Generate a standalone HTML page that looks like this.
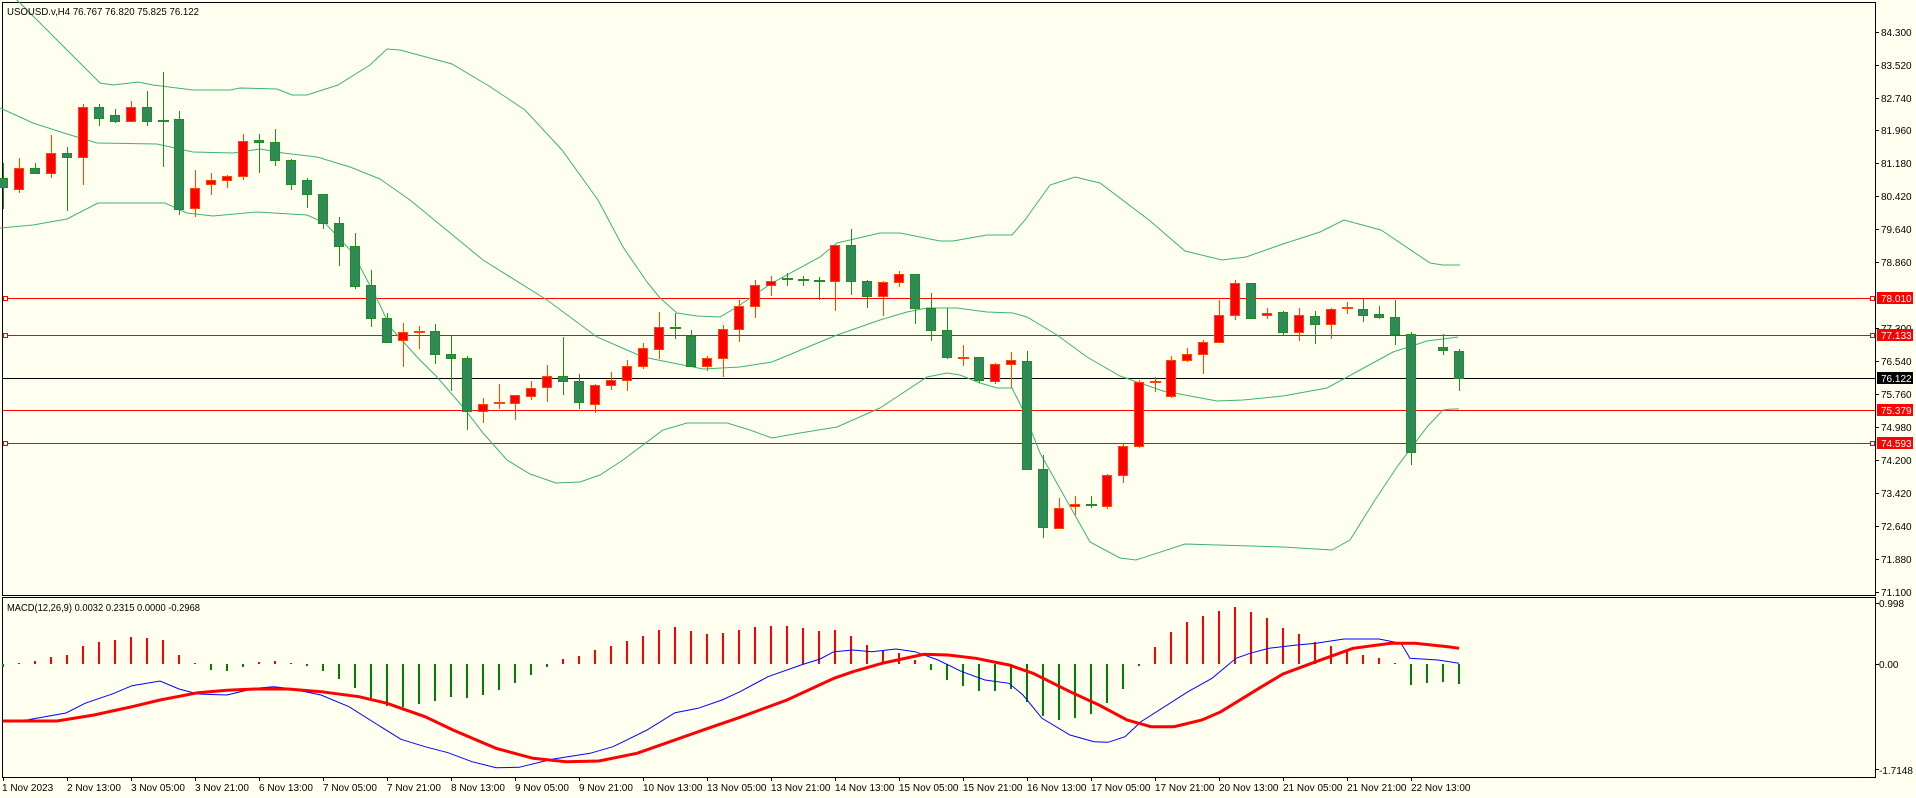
<!DOCTYPE html>
<html><head><meta charset="utf-8"><style>
html,body{margin:0;padding:0;background:#FFFFF0;}
svg{display:block;}
text{font-family:"Liberation Sans",Arial,sans-serif;}
</style></head><body>
<svg width="1916" height="798" viewBox="0 0 1916 798" xmlns="http://www.w3.org/2000/svg">
<rect x="0" y="0" width="1916" height="798" fill="#FFFFF0"/>
<g fill="none" stroke="#000" stroke-width="1" shape-rendering="crispEdges">
<path d="M2.5 2.5H1875.5V595.5H2.5Z"/>
<path d="M2.5 597.5H1875.5V777.5H2.5Z"/>
</g>
<g stroke="#000" shape-rendering="crispEdges">
<path d="M1875 32.5h4M1875 65.5h4M1875 98.5h4M1875 130.5h4M1875 163.5h4M1875 196.5h4M1875 229.5h4M1875 262.5h4M1875 328.5h4M1875 361.5h4M1875 394.5h4M1875 427.5h4M1875 460.5h4M1875 493.5h4M1875 526.5h4M1875 559.5h4M1875 592.5h4M1875 603.5h4M1875 664.5h4M1875 769.5h4"/>
<path d="M3.5 777v4M67.5 777v4M131.5 777v4M195.5 777v4M259.5 777v4M323.5 777v4M387.5 777v4M451.5 777v4M515.5 777v4M579.5 777v4M643.5 777v4M707.5 777v4M771.5 777v4M835.5 777v4M899.5 777v4M963.5 777v4M1027.5 777v4M1091.5 777v4M1155.5 777v4M1219.5 777v4M1283.5 777v4M1347.5 777v4M1411.5 777v4"/>
</g>
<g font-size="10" fill="#000">
<text x="1881" y="36">84.300</text>
<text x="1881" y="69">83.520</text>
<text x="1881" y="102">82.740</text>
<text x="1881" y="134">81.960</text>
<text x="1881" y="167">81.180</text>
<text x="1881" y="200">80.420</text>
<text x="1881" y="233">79.640</text>
<text x="1881" y="266">78.860</text>
<text x="1881" y="332">77.300</text>
<text x="1881" y="365">76.540</text>
<text x="1881" y="398">75.760</text>
<text x="1881" y="431">74.980</text>
<text x="1881" y="464">74.200</text>
<text x="1881" y="497">73.420</text>
<text x="1881" y="530">72.640</text>
<text x="1881" y="563">71.880</text>
<text x="1881" y="596">71.100</text>
<text x="1879" y="607">0.998</text>
<text x="1879" y="668">0.00</text>
<text x="1879" y="774">-1.7148</text>
</g>
<g stroke="#FF0000" stroke-width="1" shape-rendering="crispEdges">
<path d="M3 298.5H1875M3 335.5H1875M3 410.5H1875M3 443.5H1875"/>
</g>
<path d="M3 378.5H1875" stroke="#000" shape-rendering="crispEdges"/>
<g fill="#fff" stroke="#FF0000" shape-rendering="crispEdges">
<rect x="3.5" y="296.5" width="4" height="4"/><rect x="3.5" y="333.5" width="4" height="4"/><rect x="3.5" y="441.5" width="4" height="4"/>
<rect x="1870.5" y="296.5" width="4" height="4"/><rect x="1870.5" y="333.5" width="4" height="4"/><rect x="1870.5" y="441.5" width="4" height="4"/>
</g>
<g font-size="10">
<rect x="1877" y="292" width="36" height="12" fill="#FF0000"/><text x="1881" y="302" fill="#fff">78.010</text>
<rect x="1877" y="329" width="36" height="12" fill="#FF0000"/><text x="1881" y="339" fill="#fff">77.133</text>
<rect x="1877" y="372" width="36" height="12" fill="#000"/><text x="1881" y="382" fill="#fff">76.122</text>
<rect x="1877" y="404" width="36" height="12" fill="#FF0000"/><text x="1881" y="414" fill="#fff">75.379</text>
<rect x="1877" y="437" width="36" height="12" fill="#FF0000"/><text x="1881" y="447" fill="#fff">74.593</text>
</g>
<g fill="none" stroke="#3CB371" stroke-width="1">
<path d="M0,-10 L17,0 L100,83 L113,85 L138,82 L153,85 L193,90 L230,90 L240,88 L277,89 L292,95 L307,95 L338,85 L370,65 L387,49 L400,50 L452,64 L489,86 L525,110 L562,150 L598,200 L623,247 L647,282 L660,298 L677,313 L697,316 L720,317 L737,307 L772,283 L820,257 L837,243 L880,233 L900,233 L940,241 L953,241 L987,235 L1012,235 L1025,220 L1050,185 L1075,177 L1100,183 L1149,220 L1185,251 L1222,260 L1246,257 L1283,244 L1320,232 L1344,220 L1381,230 L1430,263 L1443,265 L1460,265"/>
<path d="M0,108 L33,123 L67,134 L97,143 L157,144 L193,152 L233,153 L260,149 L283,153 L317,157 L350,167 L380,179 L410,200 L483,260 L547,300 L597,337 L643,357 L703,369 L740,367 L772,362 L820,342 L837,335 L880,320 L907,312 L927,308 L957,308 L987,312 L1013,313 L1027,317 L1057,335 L1087,357 L1120,376 L1163,391 L1217,401 L1243,400 L1283,396 L1327,388 L1360,370 L1393,352 L1427,341 L1458,337"/>
<path d="M0,228 L33,225 L67,219 L98,203 L165,203 L187,213 L213,216 L257,212 L307,215 L325,223 L353,253 L380,305 L390,327 L417,357 L437,377 L463,407 L483,433 L507,460 L530,474 L556,483 L580,482 L600,475 L623,460 L663,430 L687,423 L727,423 L750,430 L772,438 L800,433 L837,427 L880,408 L927,377 L947,373 L960,375 L980,383 L997,388 L1012,388 L1023,410 L1040,453 L1090,542 L1120,558 L1136,560 L1185,544 L1283,547 L1332,550 L1350,540 L1375,500 L1397,467 L1427,427 L1443,410 L1452,409 L1459,409"/>
</g>
<g shape-rendering="crispEdges">
<path stroke="#228B22" stroke-width="1" d="M3.5 163V209M35.5 163V174M67.5 147V211M99.5 104V126M115.5 109V123M147.5 91V126M163.5 72V167M179.5 111V215M259.5 134V173M275.5 129V166M291.5 159V190M307.5 178V208M323.5 194V229M339.5 217V266M355.5 233V289M371.5 270V327M387.5 313V343M435.5 324V364M451.5 336V391M467.5 356V430M563.5 337V395M579.5 374V409M675.5 313V339M691.5 330V366M787.5 273V286M803.5 276V286M819.5 277V300M851.5 229V295M867.5 280V308M915.5 274V324M931.5 293V341M947.5 308V359M979.5 357V383M1027.5 351V470M1043.5 455V538M1091.5 496V508M1251.5 283V319M1283.5 311V335M1315.5 311V344M1363.5 299V322M1379.5 306V319M1395.5 300V345M1411.5 332V465M1443.5 334V355M1459.5 349V391"/>
<path stroke="#228B22" stroke-width="2" d="M158 121H169M670 328H681M782 279H793M798 280H809M814 281H825M1086 505H1097"/>
<g fill="#2E8B57" stroke="#228B22">
<rect x="-1.5" y="178.5" width="9" height="9"/><rect x="30.5" y="168.5" width="9" height="5"/><rect x="62.5" y="153.5" width="9" height="4"/><rect x="94.5" y="107.5" width="9" height="11"/><rect x="110.5" y="115.5" width="9" height="6"/><rect x="142.5" y="107.5" width="9" height="14"/><rect x="174.5" y="119.5" width="9" height="90"/><rect x="254.5" y="140.5" width="9" height="2"/><rect x="270.5" y="142.5" width="9" height="18"/><rect x="286.5" y="160.5" width="9" height="24"/><rect x="302.5" y="180.5" width="9" height="14"/><rect x="318.5" y="194.5" width="9" height="29"/><rect x="334.5" y="223.5" width="9" height="23"/><rect x="350.5" y="246.5" width="9" height="40"/><rect x="366.5" y="285.5" width="9" height="33"/><rect x="382.5" y="318.5" width="9" height="24"/><rect x="430.5" y="331.5" width="9" height="23"/><rect x="446.5" y="354.5" width="9" height="4"/><rect x="462.5" y="358.5" width="9" height="53"/><rect x="558.5" y="376.5" width="9" height="5"/><rect x="574.5" y="381.5" width="9" height="21"/><rect x="686.5" y="336.5" width="9" height="30"/><rect x="846.5" y="245.5" width="9" height="36"/><rect x="862.5" y="281.5" width="9" height="15"/><rect x="910.5" y="274.5" width="9" height="34"/><rect x="926.5" y="308.5" width="9" height="22"/><rect x="942.5" y="330.5" width="9" height="27"/><rect x="974.5" y="357.5" width="9" height="23"/><rect x="1022.5" y="361.5" width="9" height="108"/><rect x="1038.5" y="469.5" width="9" height="58"/><rect x="1246.5" y="283.5" width="9" height="35"/><rect x="1278.5" y="312.5" width="9" height="20"/><rect x="1310.5" y="316.5" width="9" height="8"/><rect x="1358.5" y="309.5" width="9" height="6"/><rect x="1374.5" y="314.5" width="9" height="3"/><rect x="1390.5" y="317.5" width="9" height="17"/><rect x="1406.5" y="334.5" width="9" height="118"/><rect x="1438.5" y="347.5" width="9" height="3"/><rect x="1454.5" y="351.5" width="9" height="27"/>
</g>
<path stroke="#FF4500" stroke-width="1" d="M19.5 158V193M51.5 135V178M83.5 104V185M131.5 101V121M195.5 170V217M211.5 173V195M227.5 175V188M243.5 134V180M403.5 323V367M419.5 326V349M483.5 398V423M499.5 384V409M515.5 395V420M531.5 381V400M547.5 365V402M595.5 384V413M611.5 372V390M627.5 360V391M643.5 343V369M659.5 312V359M707.5 356V371M723.5 325V377M739.5 300V342M755.5 280V318M771.5 276V296M835.5 245V311M883.5 281V316M899.5 271V287M963.5 345V366M995.5 363V384M1011.5 352V388M1059.5 498V528M1075.5 496V515M1107.5 474V509M1123.5 443V483M1139.5 380V448M1155.5 377V392M1171.5 356V398M1187.5 348V362M1203.5 340V374M1219.5 300V343M1235.5 280V320M1267.5 308V319M1299.5 308V341M1331.5 308V339M1347.5 302V314"/>
<path stroke="#FF4500" stroke-width="2" d="M414 332H425M494 403H505M958 358H969M1150 382H1161M1342 308H1353"/>
<g fill="#FF0000" stroke="#FF4500">
<rect x="14.5" y="168.5" width="9" height="21"/><rect x="46.5" y="153.5" width="9" height="20"/><rect x="78.5" y="107.5" width="9" height="50"/><rect x="126.5" y="107.5" width="9" height="14"/><rect x="190.5" y="188.5" width="9" height="20"/><rect x="206.5" y="180.5" width="9" height="4"/><rect x="222.5" y="176.5" width="9" height="4"/><rect x="238.5" y="141.5" width="9" height="35"/><rect x="398.5" y="332.5" width="9" height="8"/><rect x="478.5" y="404.5" width="9" height="7"/><rect x="510.5" y="395.5" width="9" height="8"/><rect x="526.5" y="388.5" width="9" height="8"/><rect x="542.5" y="376.5" width="9" height="11"/><rect x="590.5" y="385.5" width="9" height="19"/><rect x="606.5" y="380.5" width="9" height="5"/><rect x="622.5" y="366.5" width="9" height="14"/><rect x="638.5" y="348.5" width="9" height="18"/><rect x="654.5" y="327.5" width="9" height="22"/><rect x="702.5" y="358.5" width="9" height="8"/><rect x="718.5" y="329.5" width="9" height="29"/><rect x="734.5" y="306.5" width="9" height="23"/><rect x="750.5" y="285.5" width="9" height="21"/><rect x="766.5" y="281.5" width="9" height="4"/><rect x="830.5" y="245.5" width="9" height="36"/><rect x="878.5" y="282.5" width="9" height="14"/><rect x="894.5" y="274.5" width="9" height="8"/><rect x="990.5" y="364.5" width="9" height="17"/><rect x="1006.5" y="360.5" width="9" height="4"/><rect x="1054.5" y="508.5" width="9" height="20"/><rect x="1070.5" y="504.5" width="9" height="2"/><rect x="1102.5" y="475.5" width="9" height="31"/><rect x="1118.5" y="446.5" width="9" height="29"/><rect x="1134.5" y="382.5" width="9" height="64"/><rect x="1166.5" y="360.5" width="9" height="36"/><rect x="1182.5" y="354.5" width="9" height="6"/><rect x="1198.5" y="342.5" width="9" height="12"/><rect x="1214.5" y="315.5" width="9" height="27"/><rect x="1230.5" y="283.5" width="9" height="32"/><rect x="1262.5" y="313.5" width="9" height="2"/><rect x="1294.5" y="315.5" width="9" height="17"/><rect x="1326.5" y="309.5" width="9" height="15"/>
</g>
</g>
<text x="7" y="15" font-size="10.5" textLength="192" lengthAdjust="spacingAndGlyphs" fill="#000">USOUSD.v,H4  76.767 76.820 75.825 76.122</text>
<g stroke-width="2" shape-rendering="crispEdges">
<path stroke="#FF0000" d="M19 664V663M35 664V661M51 664V657M67 664V655M83 664V646M99 664V642M115 664V640M131 664V637M147 664V638M163 664V640M179 664V655M195 664V663M259 664V662M275 664V661M291 664V663M563 664V659M579 664V656M595 664V650M611 664V646M627 664V641M643 664V636M659 664V630M675 664V627M691 664V631M707 664V634M723 664V633M739 664V630M755 664V627M771 664V626M787 664V626M803 664V628M819 664V631M835 664V630M851 664V636M867 664V645M883 664V650M899 664V653M915 664V660M1155 664V647M1171 664V632M1187 664V622M1203 664V616M1219 664V611M1235 664V607M1251 664V612M1267 664V618M1283 664V628M1299 664V634M1315 664V642M1331 664V646M1347 664V650M1363 664V655M1379 664V658M1395 664V663"/>
<path stroke="#008000" d="M3 664V667M211 664V670M227 664V671M243 664V667M307 664V666M323 664V671M339 664V679M355 664V688M371 664V698M387 664V706M403 664V707M419 664V704M435 664V701M451 664V697M467 664V698M483 664V695M499 664V690M515 664V683M531 664V675M547 664V667M931 664V670M947 664V680M963 664V686M979 664V691M995 664V691M1011 664V689M1027 664V702M1043 664V716M1059 664V720M1075 664V718M1091 664V714M1107 664V703M1123 664V689M1139 664V666M1411 664V685M1427 664V683M1443 664V682M1459 664V684"/>
</g>
<path fill="none" stroke="#0000FF" stroke-width="1" d="M3,720.7 L28,719.7 L66,713 L85,703.3 L113,693.7 L132,685.7 L160,681 L179,689 L198,694 L227,695 L255,688.3 L274,686.7 L288,688.3 L321,695 L349,706.7 L378,725 L401,739.3 L425,746.7 L448,752.7 L472,761.7 L496,767.7 L519,767.3 L552,759.3 L590,753.3 L613,746.7 L647,730 L675,712.7 L698,708.3 L722,700 L740,691.7 L768,676.7 L801,665 L820,659 L834,651.7 L853,650 L872,651.7 L896,649 L915,651.7 L938,660 L962,671.7 L985,680 L1009,683.3 L1023,695 L1042,718.3 L1070,735 L1094,741.7 L1108,742.3 L1125,736.7 L1141,721.7 L1188,691.7 L1212,678.3 L1236,658.3 L1250,653.3 L1269,648.3 L1297,645 L1316,643.3 L1344,639 L1379,639 L1401,643.3 L1410,658.3 L1438,660 L1459,663.3"/>
<path fill="none" stroke="#FF0000" stroke-width="3" d="M3,721 L57,721 L94,715 L132,706.7 L160,700 L198,692.7 L227,690.3 L255,689 L288,689 L321,691.7 L359,696.7 L387,703.3 L425,716.7 L453,730 L496,748.3 L533,758.3 L566,761.7 L599,761 L637,753.3 L670,741.7 L708,728.3 L740,717.3 L787,700 L834,678.3 L853,671.7 L882,663.3 L924,654.3 L948,655 L976,658.3 L1009,665 L1033,673.3 L1070,691.7 L1099,705 L1127,720 L1151,726.7 L1174,726.7 L1202,720 L1221,711.7 L1259,688.3 L1283,674 L1316,661.7 L1353,648.3 L1391,643.3 L1415,643.3 L1448,646.7 L1459,648.3"/>
<text x="7" y="611" font-size="10.5" textLength="193" lengthAdjust="spacingAndGlyphs" fill="#000">MACD(12,26,9) 0.0032 0.2315 0.0000 -0.2968</text>
<g font-size="10" fill="#000">
<text x="2" y="791">1 Nov 2023</text>
<text x="67" y="791">2 Nov 13:00</text>
<text x="131" y="791">3 Nov 05:00</text>
<text x="195" y="791">3 Nov 21:00</text>
<text x="259" y="791">6 Nov 13:00</text>
<text x="323" y="791">7 Nov 05:00</text>
<text x="387" y="791">7 Nov 21:00</text>
<text x="451" y="791">8 Nov 13:00</text>
<text x="515" y="791">9 Nov 05:00</text>
<text x="579" y="791">9 Nov 21:00</text>
<text x="643" y="791">10 Nov 13:00</text>
<text x="707" y="791">13 Nov 05:00</text>
<text x="771" y="791">13 Nov 21:00</text>
<text x="835" y="791">14 Nov 13:00</text>
<text x="899" y="791">15 Nov 05:00</text>
<text x="963" y="791">15 Nov 21:00</text>
<text x="1027" y="791">16 Nov 13:00</text>
<text x="1091" y="791">17 Nov 05:00</text>
<text x="1155" y="791">17 Nov 21:00</text>
<text x="1219" y="791">20 Nov 13:00</text>
<text x="1283" y="791">21 Nov 05:00</text>
<text x="1347" y="791">21 Nov 21:00</text>
<text x="1411" y="791">22 Nov 13:00</text>
</g>
</svg>
</body></html>
